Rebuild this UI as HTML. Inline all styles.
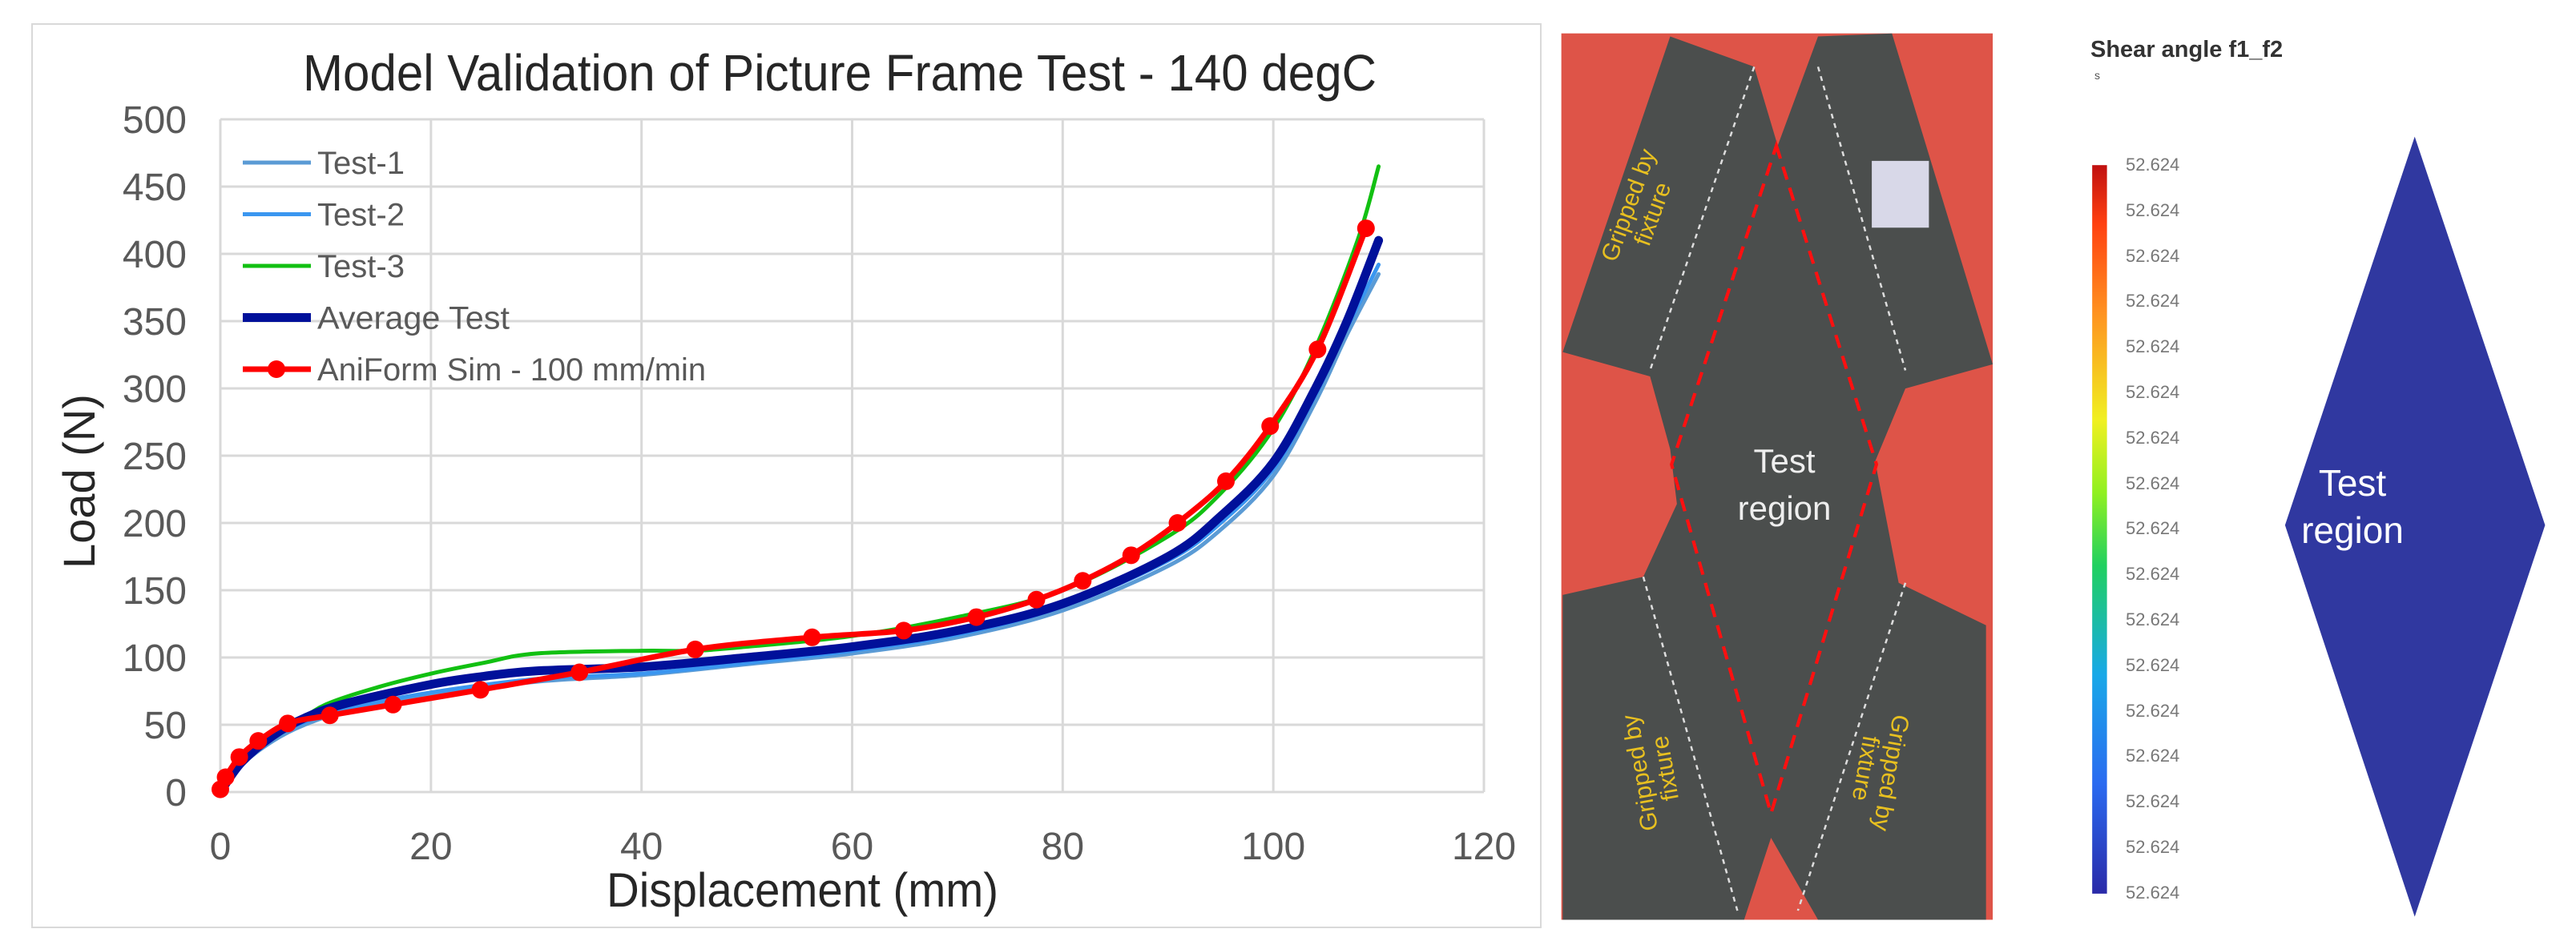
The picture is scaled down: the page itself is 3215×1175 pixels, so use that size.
<!DOCTYPE html>
<html><head><meta charset="utf-8"><style>
body{margin:0;width:3215px;height:1175px;background:#fff;position:relative;overflow:hidden;font-family:"Liberation Sans",sans-serif}
.abs{position:absolute}
</style></head><body>
<svg class="abs" style="left:0;top:0" width="1940" height="1175">
<rect x="40" y="30" width="1883" height="1128" fill="#fff" stroke="#d9d9d9" stroke-width="2"/>
<g id="grid"></g><g id="series"></g><g id="legend"></g>
<text x="378" y="113" font-size="64" textLength="1340" lengthAdjust="spacingAndGlyphs" fill="#262626">Model Validation of Picture Frame Test - 140 degC</text>
<text x="757" y="1132" font-size="60" textLength="489" lengthAdjust="spacingAndGlyphs" fill="#262626">Displacement (mm)</text>
<text transform="translate(118,601) rotate(-90)" font-size="56" text-anchor="middle" fill="#262626">Load (N)</text>
</svg>
<svg class="abs" style="left:1900px;top:0" width="1315" height="1175" viewBox="0 0 1568 1550" preserveAspectRatio="none">
<rect x="58" y="55" width="642" height="1460" fill="#de5448"/>
<polygon fill="#4b4e4d" points="60,580 220,60 345,110 380,240 440,60 550,55 700,600 570,640 525,760 560,960 690,1030 690,1515 440,1515 370,1380 330,1515 60,1515 60,980 180,950 230,830 220,740 190,620"/>
<polyline points="345,110 190,610" stroke="#ddd" stroke-width="3" stroke-dasharray="8 8" fill="none"/>
<polyline points="440,110 570,610" stroke="#ddd" stroke-width="3" stroke-dasharray="8 8" fill="none"/>
<polyline points="180,950 320,1500" stroke="#ddd" stroke-width="3" stroke-dasharray="8 8" fill="none"/>
<polyline points="570,960 410,1500" stroke="#ddd" stroke-width="3" stroke-dasharray="8 8" fill="none"/>
<rect x="520" y="265" width="85" height="110" fill="#d8d8e8"/>
<polygon points="378,240 527,765 370,1340 222,765" fill="none" stroke="#ff1010" stroke-width="5" stroke-dasharray="22 14"/>
<defs><linearGradient id="cb" x1="0" y1="1" x2="0" y2="0">
<stop offset="0" stop-color="#2a2aa8"/><stop offset="0.15" stop-color="#2a6af0"/><stop offset="0.3" stop-color="#18a8e8"/><stop offset="0.45" stop-color="#20d060"/><stop offset="0.55" stop-color="#90f020"/><stop offset="0.65" stop-color="#f0f020"/><stop offset="0.8" stop-color="#ff9020"/><stop offset="0.92" stop-color="#ff4010"/><stop offset="1" stop-color="#c01010"/></linearGradient></defs>
<rect x="848" y="272" width="22" height="1200" fill="url(#cb)"/>
<polygon points="1328,225 1522,865 1328,1510 1135,865" fill="#3038a0"/>
</svg>
<div class="abs" style="left:2077px;top:546px;width:300px;text-align:center;color:#eee;font-size:42px;line-height:59px">Test<br>region</div>
<div class="abs" style="left:1975px;top:230px;color:#e8c020;font-size:30px;line-height:32px;text-align:center;transform:rotate(-70deg)">Gripped by<br>fixture</div>
<div class="abs" style="left:1990px;top:930px;color:#e8c020;font-size:30px;line-height:32px;text-align:center;transform:rotate(-100deg)">Gripped by<br>fixture</div>
<div class="abs" style="left:2270px;top:930px;color:#e8c020;font-size:30px;line-height:32px;text-align:center;transform:rotate(100deg)">Gripped by<br>fixture</div>
<div class="abs" style="left:2609px;top:46px;font-size:29px;font-weight:bold;color:#333">Shear angle f1_f2</div>
<div class="abs" style="left:2614px;top:86px;font-size:14px;color:#555">s</div>
<div id="cblabels"></div>
<div class="abs" style="left:2856px;top:574px;width:160px;text-align:center;color:#fff;font-size:46px;line-height:59px">Test<br>region</div>
<script>
const xTicks=[0,20,40,60,80,100,120];
const yTicks=[0,50,100,150,200,250,300,350,400,450,500];
const t1X=[0,2,5,8,12,20,30,40,50,60,70,80,90,95,100,104,107,110];
const t1Y=[0,20,38,50,60,72,82,87,95,103,115,135,168,195,235,290,340,385];
const t2X=[0,2,5,8,12,20,30,40,50,60,70,80,90,95,100,104,107,110];
const t2Y=[0,22,40,52,62,74,84,88,96,105,117,138,172,200,240,295,345,392];
const t3X=[0,3,5,7,10,15,20,25,30,40,45,50,60,70,80,90,95,100,104,108,110];
const t3Y=[0,30,42,50,65,78,88,96,103,105,105,108,116,130,150,190,222,270,330,410,465];
const avgX=[0,2,5,8,12,20,25,30,40,50,60,70,80,90,95,100,104,107,110];
const avgY=[0,22,42,55,66,80,86,90,93,100,108,120,140,175,205,245,300,350,410];
const simX=[0,0.5,1.8,3.6,6.4,10.4,16.4,24.7,34.1,45.1,56.2,64.9,71.8,77.5,81.9,86.5,90.9,95.5,99.7,104.2,108.8];
const simY=[2,11,26,38,51,57,65,76,89,106,115,120,130,143,157,176,200,231,272,329,419];
const legendNames=["Test-1","Test-2","Test-3","Average Test","AniForm Sim - 100 mm/min"];
const X0=275,X1=1852,Y0=989,Y1=149;
const sx=v=>X0+(v-0)/(120-0)*(X1-X0);
const sy=v=>Y0-(v/500)*(Y0-Y1);
const NS="http://www.w3.org/2000/svg";
function mk(tag,attrs,parent){const e=document.createElementNS(NS,tag);for(const k in attrs)e.setAttribute(k,attrs[k]);parent.appendChild(e);return e;}
const grid=document.getElementById('grid');
xTicks.forEach(t=>{const l=mk('line',{x1:sx(t),x2:sx(t),y1:Y1,y2:Y0,stroke:'#d9d9d9','stroke-width':3},grid);


const tx=mk('text',{x:sx(t),y:Y0+84,'font-size':48,'text-anchor':'middle',fill:'#595959'},grid);tx.textContent=t;

});
yTicks.forEach(t=>{const l=mk('line',{x1:X0,x2:X1,y1:sy(t),y2:sy(t),stroke:'#d9d9d9','stroke-width':3},grid);


const tx=mk('text',{x:X0-42,y:sy(t)+17,'font-size':48,'text-anchor':'end',fill:'#595959'},grid);tx.textContent=t;

});
function pathD(xs,ys){const p=xs.map((x,i)=>[sx(x),sy(ys[i])]);let d='M'+p[0][0]+','+p[0][1];
for(let i=0;i<p.length-1;i++){const a=p[Math.max(0,i-1)],b=p[i],c=p[i+1],e=p[Math.min(p.length-1,i+2)];
d+=` C${b[0]+(c[0]-a[0])/6},${b[1]+(c[1]-a[1])/6} ${c[0]-(e[0]-b[0])/6},${c[1]-(e[1]-b[1])/6} ${c[0]},${c[1]}`;}return d;}
const ser=document.getElementById('series');
const defs=[[t1X,t1Y,'#5b9bd5',5,'test-1-line'],[t2X,t2Y,'#3a96f0',5,'test-2-line'],[t3X,t3Y,'#12c012',5,'test-3-line'],[avgX,avgY,'#00109a',11,'average-test-line'],[simX,simY,'#ff0000',7,'aniform-sim-line']];
defs.forEach(d=>{const p=mk('path',{d:pathD(d[0],d[1]),fill:'none',stroke:d[2],'stroke-width':d[3],'stroke-linecap':'round'},ser);

});
simX.forEach((x,i)=>{const c=mk('circle',{cx:sx(x),cy:sy(simY[i]),r:11,fill:'#ff0000'},ser);

});
const lg=document.getElementById('legend');
const lcol=['#5b9bd5','#3a96f0','#12c012','#00109a','#ff0000'],lw=[5,5,5,11,7];
const lLen=[109,109,109,240,485];
legendNames.forEach((n,i)=>{const y=203+i*64.5;const l=mk('line',{x1:303,x2:388,y1:y,y2:y,stroke:lcol[i],'stroke-width':lw[i]},lg);


if(i==4){const c=mk('circle',{cx:345,cy:y,r:11,fill:'#ff0000'},lg);
}
const t=mk('text',{x:396,y:y+14,'font-size':40,fill:'#595959',textLength:lLen[i],lengthAdjust:'spacingAndGlyphs'},lg);t.textContent=n;

});
const cbl=document.getElementById('cblabels');
for(let i=0;i<17;i++){const d=document.createElement('div');d.className='abs';
d.style.cssText=`left:2653px;top:${206+i*56.8-13}px;font-size:22px;color:#777`;d.textContent='52.624';


cbl.appendChild(d);}
</script>
</body></html>
